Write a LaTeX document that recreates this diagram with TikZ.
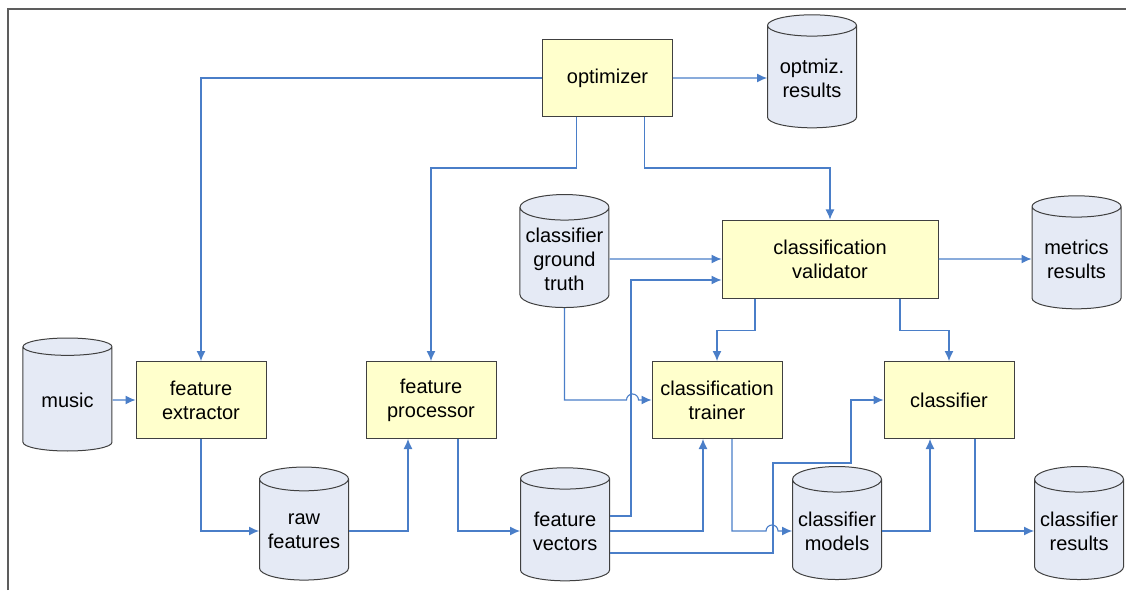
\documentclass[tikz,border=0pt]{standalone}
\usepackage{fontspec}
\setmainfont{Liberation Sans}
\usepackage{xcolor}
\usepackage{tikz}
\usetikzlibrary{positioning, arrows.meta, shapes.geometric}

\definecolor{boxfill}{HTML}{FFFFCC}
\definecolor{storefill}{HTML}{E5EAF5}
\definecolor{edgegray}{HTML}{404040}
\definecolor{flowblue}{HTML}{4A7EC8}

\begin{document}
\begin{tikzpicture}[
        x=1pt, y=1pt,
        every node/.style={
            font=\fontsize{20}{24}\selectfont,
            align=center
        },
        module/.style={
            rectangle,
            draw=edgegray,
            fill=boxfill,
            line width=1pt,
            minimum width=130pt,
            minimum height=77pt,
            inner sep=2pt
        },
        store/.style={
            cylinder,
            shape border rotate=90,
            aspect=0.32,
            draw=edgegray,
            fill=storefill,
            line width=1pt,
            minimum width=89pt,
            minimum height=113pt,
            inner sep=1pt
        },
        arrow/.style={
            -{Latex[length=10pt,width=9pt]},
            draw=flowblue,
            line width=1.1pt
        }
    ]

    \useasboundingbox (0,0) rectangle (1126,590);

    % Rahmen
    \draw[edgegray!85, line width=1.4pt] (8,0) -- (8,581) -- (1126,581);

    % Obere Reihe

    \node[module] (optimizer) at (607.5,512) {optimizer};

    \node[store, right=94pt of optimizer] (optresults)
    {optmiz.\\results};

    % Mittlere Reihe

    \node[module, minimum width=216pt, minimum height=78pt] (validator)
    at (830,331) {classification\\validator};

    \node[store, left=112pt of validator] (truth)
    {classifier\\ground\\truth};

    \node[store, right=93pt of validator] (metrics)
    {metrics\\results};

    % Verarbeitungskette

    \node[module] (extractor) at (201,190) {feature\\extractor};

    \node[store, left=23pt of extractor] (music) {music};

    \node[module, right=99pt of extractor] (processor)
    {feature\\processor};

    \node[module, right=155pt of processor] (trainer)
    {classification\\trainer};

    \node[module, right=101pt of trainer] (classifier) {classifier};

    % Untere Reihe

    \node[store] (rawfeat) at (304,59) {raw\\features};

    \node[store, right=171pt of rawfeat] (vectors) {feature\\vectors};

    \node[store, right=182pt of vectors] (models) {classifier\\models};

    \node[store, right=152pt of models] (clsresults)
    {classifier\\results};

    % Optimierer

    \draw[arrow] (optimizer.west) -| (extractor.north);
    \draw[arrow] (optimizer) -- (optresults);
    \draw[arrow] ([xshift=-31pt]optimizer.south) -- ++(0,-51)
        -| (processor.north);
    \draw[arrow] ([xshift=37pt]optimizer.south) -- ++(0,-51)
        -| (validator.north);

    % Merkmale

    \draw[arrow] (music) -- (extractor);
    \draw[arrow] (extractor.south) |- (rawfeat.west);
    \draw[arrow] (rawfeat.east) -| ([xshift=-23pt]processor.south);
    \draw[arrow] ([xshift=27pt]processor.south) |- (vectors.west);

    % Validierung und Training

    \draw[arrow] (truth) -- (validator);
    \draw[arrow] (truth.south) |- ([xshift=-25pt]trainer.west)
        arc (180:0:6) -- (trainer.west);
    \draw[arrow] ([yshift=15pt]vectors.east) -- ++(21,0)
        |- ([yshift=-21pt]validator.west);
    \draw[arrow] (vectors.east) -| ([xshift=-14pt]trainer.south);
    \draw[arrow] ([yshift=-22pt]vectors.east) -- ++(163,0) -- ++(0,90)
        -- ++(78,0) |- (classifier.west);
    \draw[arrow] ([xshift=15pt]trainer.south) |- ([xshift=-26pt]models.west)
        arc (180:0:6) -- (models.west);
    \draw[arrow] ([xshift=-75pt]validator.south) -- ++(0,-32)
        -| (trainer.north);
    \draw[arrow] ([xshift=70pt]validator.south) -- ++(0,-32)
        -| (classifier.north);
    \draw[arrow] (validator) -- (metrics);

    % Klassifikation

    \draw[arrow] (models.east) -| ([xshift=-19pt]classifier.south);
    \draw[arrow] ([xshift=26pt]classifier.south) |- (clsresults.west);

\end{tikzpicture}
\end{document}
